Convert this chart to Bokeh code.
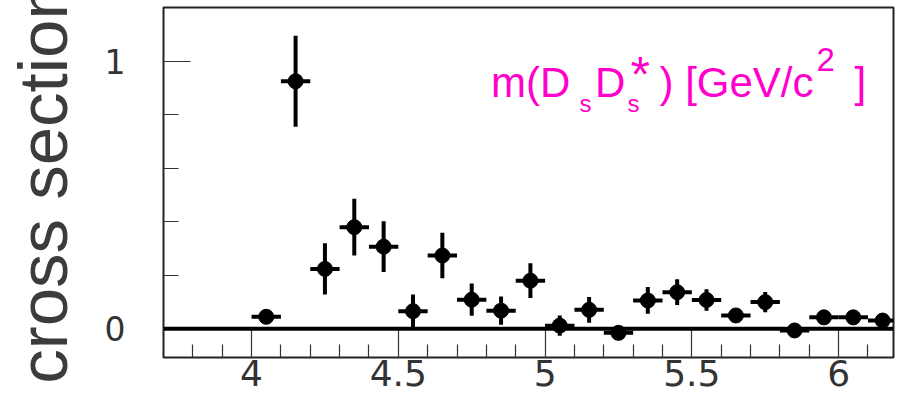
import math
from bokeh.plotting import figure
from bokeh.models import FixedTicker, Span, Label, ColumnDataSource, Range1d
from bokeh.embed import file_html
from bokeh.resources import INLINE

# ---- data ----
mass = [4.05, 4.15, 4.25, 4.35, 4.45, 4.55, 4.65, 4.75, 4.85, 4.95, 5.05,
        5.15, 5.25, 5.35, 5.45, 5.55, 5.65, 5.75, 5.85, 5.95, 6.05, 6.15]
xsec = [0.045, 0.925, 0.224, 0.380, 0.307, 0.066, 0.274, 0.109, 0.068, 0.180, 0.012,
        0.071, -0.015, 0.106, 0.137, 0.108, 0.050, 0.100, -0.006, 0.043, 0.043, 0.031]
xsec_err = [0.020, 0.170, 0.096, 0.106, 0.095, 0.062, 0.085, 0.060, 0.053, 0.065, 0.038,
            0.048, 0.010, 0.050, 0.048, 0.040, 0.010, 0.038, 0.000, 0.000, 0.000, 0.000]
bin_half_width = 0.05

x_major_ticks = [4, 4.5, 5, 5.5, 6]
x_tick_labels = ["4", "4.5", "5", "5.5", "6"]
x_minor_ticks = [3.8, 3.9, 4.1, 4.2, 4.3, 4.4, 4.6, 4.7, 4.8, 4.9, 5.1, 5.2, 5.3, 5.4,
                 5.6, 5.7, 5.8, 5.9, 6.1]
y_major_ticks = [0, 1]
y_tick_labels = ["0", "1"]
y_minor_ticks = [0.2, 0.4, 0.6, 0.8]

y_title = "cross section"

# ---- figure ----
p = figure(width=900, height=401, output_backend="svg", toolbar_location=None,
           x_range=Range1d(3.70, 6.187), y_range=Range1d(-0.107, 1.2006),
           min_border_left=163, min_border_right=7, min_border_top=7, min_border_bottom=44)
p.grid.visible = False
p.background_fill_color = "white"
p.border_fill_color = "white"
p.outline_line_color = "#222222"
p.outline_line_width = 2

xa = p.xaxis[0]
xa.ticker = FixedTicker(ticks=x_major_ticks, minor_ticks=x_minor_ticks)
xa.major_label_overrides = {t: s for t, s in zip(x_major_ticks, x_tick_labels)}
xa.major_tick_in = 28
xa.major_tick_out = 0
xa.minor_tick_in = 13
xa.minor_tick_out = 0
xa.major_tick_line_color = "#333333"
xa.minor_tick_line_color = "#333333"
xa.major_tick_line_width = 1.2
xa.minor_tick_line_width = 1.2
xa.axis_line_color = None
xa.major_label_standoff = 2
xa.major_label_text_font = "DejaVu Sans"
xa.major_label_text_font_size = "36px"
xa.major_label_text_color = "#333333"

ya = p.yaxis[0]
ya.ticker = FixedTicker(ticks=y_major_ticks, minor_ticks=y_minor_ticks)
ya.major_label_overrides = {t: s for t, s in zip(y_major_ticks, y_tick_labels)}
ya.major_tick_in = 27
ya.major_tick_out = 0
ya.minor_tick_in = 15
ya.minor_tick_out = 0
ya.major_tick_line_color = "#333333"
ya.minor_tick_line_color = "#333333"
ya.major_tick_line_width = 1.2
ya.minor_tick_line_width = 1.2
ya.axis_line_color = None
ya.major_label_standoff = 38
ya.major_label_text_font = "DejaVu Sans"
ya.major_label_text_font_size = "33px"
ya.major_label_text_color = "#333333"
ya.axis_label = y_title
ya.axis_label_text_font = "Liberation Sans"
ya.axis_label_text_font_size = "69px"
ya.axis_label_text_font_style = "normal"
ya.axis_label_text_color = "#3c3c3c"
ya.axis_label_standoff = 20

# zero line
p.add_layout(Span(location=0, dimension="width", line_color="black", line_width=4))

# data with error bars
src = ColumnDataSource(dict(
    x=mass, y=xsec,
    lo=[v - e for v, e in zip(xsec, xsec_err)],
    hi=[v + e for v, e in zip(xsec, xsec_err)],
    xl=[m - bin_half_width for m in mass],
    xr=[m + bin_half_width for m in mass],
))
p.segment(x0="x", y0="lo", x1="x", y1="hi", source=src, line_color="black", line_width=4)
p.segment(x0="xl", y0="y", x1="xr", y1="y", source=src, line_color="black", line_width=4)
p.scatter(x="x", y="y", source=src, size=15, marker="circle",
          fill_color="black", line_color="black")

# magenta mass label pieces (frame-relative screen positions)
mag = "#ff00cc"
pieces = [
    ("m(D", 327.5, 275.0, "42px"),
    ("s", 416, 253.7, "24px"),
    ("D", 431.5, 275.0, "42px"),
    ("s", 464, 253.7, "24px"),
    ("*", 467.0, 283.0, "50px"),
    (") [GeV/c", 496, 275.0, "42px"),
    ("2", 653, 298.0, "33px"),
    ("]", 691, 275.0, "42px"),
]
for t, xx, yy, fs in pieces:
    p.add_layout(Label(x=xx, y=yy, x_units="screen", y_units="screen", text=t,
                       text_align="left", text_baseline="alphabetic",
                       text_font="Liberation Sans", text_font_size=fs, text_color=mag))

open("out.html", "w").write(file_html(p, INLINE))
